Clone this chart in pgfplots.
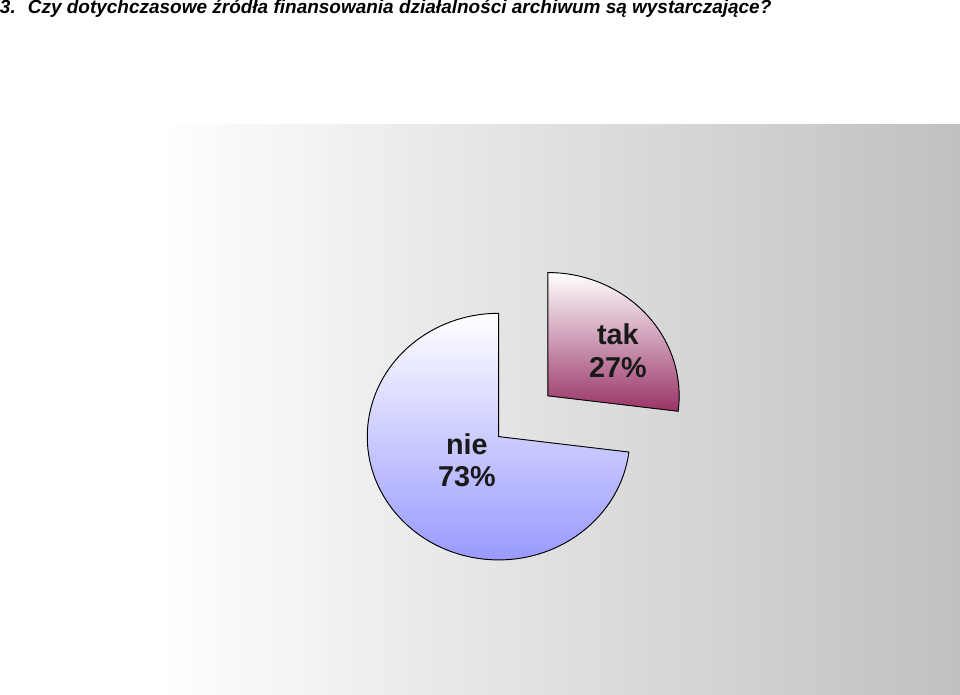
\documentclass[border=0pt]{standalone}
\usepackage{pgfplots}
\pgfplotsset{compat=1.18}
\usepackage{pgfplotstable}
\usepackage{fontspec}
\setmainfont{Liberation Sans}
\usetikzlibrary{calc}

\definecolor{nieblue}{RGB}{150,150,255}
\definecolor{takplum}{RGB}{153,51,102}
\definecolor{bggray}{RGB}{192,192,192}

% share of answers, in percent
\pgfplotstableread{
label value
tak   27
nie   73
}\piedata

\pgfplotstablegetelem{0}{value}\of\piedata \let\vtak\pgfplotsretval
\pgfplotstablegetelem{1}{value}\of\piedata \let\vnie\pgfplotsretval
\pgfmathsetmacro\aend{90-3.6*\vtak}   % tak runs clockwise from 12 o'clock
\pgfmathsetmacro\amid{90-1.8*\vtak}

\begin{document}
\begin{tikzpicture}
\begin{axis}[
    width=720pt, height=519.75pt,
    scale only axis,
    xmin=0, xmax=960, ymin=0, ymax=693,
    hide axis, clip=false,
]
% plot area
\fill[left color=white, right color=bggray] (axis cs:157,0) rectangle (axis cs:958,569);

% nie (pie centre stays put)
\filldraw[draw=black, line width=0.7pt, top color=white, bottom color=nieblue]
    (axis cs:497.7,257.3) -- ++(\aend:98.25pt and 92.25pt)
    arc[start angle=\aend, end angle=-270, x radius=98.25pt, y radius=92.25pt] -- cycle;

% tak (exploded)
\filldraw[draw=black, line width=0.7pt, top color=white, bottom color=takplum]
    ($(axis cs:497.7,257.3)+(\amid:49.125pt and 46.125pt)$) -- ++(0,92.25pt)
    arc[start angle=90, end angle=\aend, x radius=98.25pt, y radius=92.25pt] -- cycle;

\node[align=center, font=\bfseries\fontsize{21.5}{24}\selectfont, text=black!90]
    at (axis cs:616.7,343) {tak\\\vtak\%};
\node[align=center, font=\bfseries\fontsize{21.5}{24}\selectfont, text=black!90]
    at (axis cs:466,234) {nie\\\vnie\%};

\node[anchor=base west, inner sep=0pt, font=\bfseries\itshape\fontsize{14.2}{16}\selectfont]
    at (axis cs:0,679) {3.\hspace{9pt}Czy dotychczasowe źródła finansowania działalności archiwum są wystarczające?};
\end{axis}
\end{tikzpicture}
\end{document}
